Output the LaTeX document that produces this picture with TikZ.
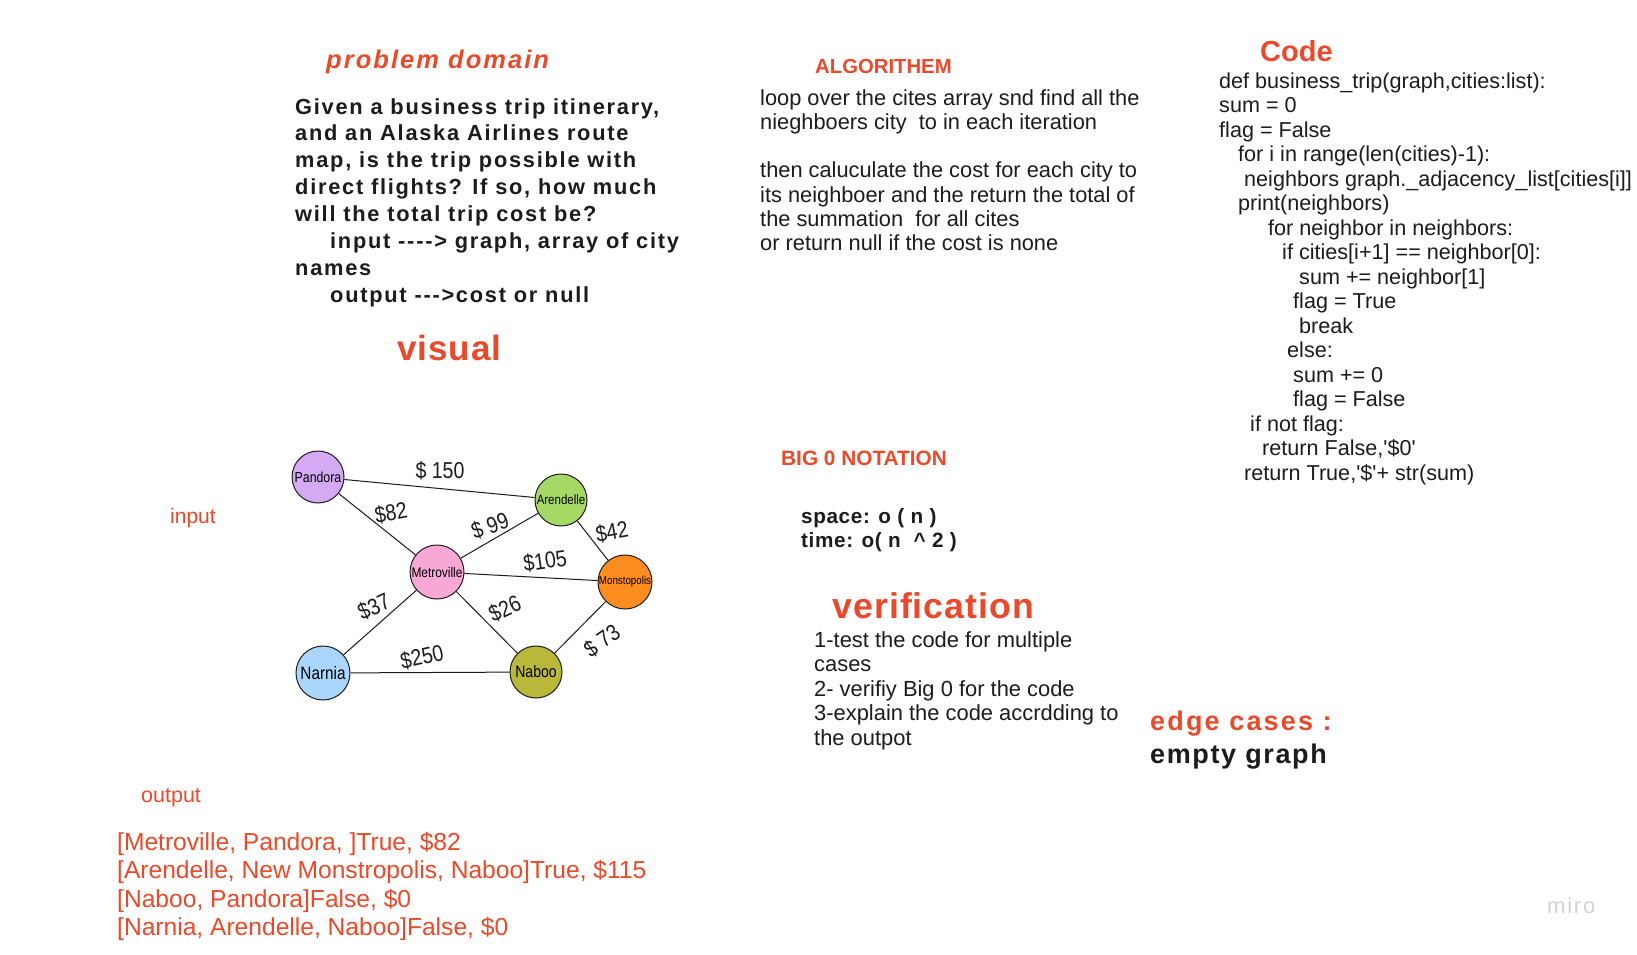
\documentclass[tikz,border=0pt]{standalone}
\usepackage{fontspec}
\setmainfont{Liberation Sans}[Ligatures=TeXOff]
\newfontfamily\spaced{Liberation Sans}[Ligatures=TeXOff,LetterSpace=8]
\newfontfamily\mspaced{Liberation Sans}[Ligatures=TeXOff,LetterSpace=6]
\newfontfamily\lspaced{Liberation Sans}[Ligatures=TeXOff,LetterSpace=3]
\newfontfamily\hand{Liberation Sans}[Ligatures=TeXOff,FakeStretch=0.85]
\newcommand\fsz[1]{\fontsize{#1}{#1}\selectfont}
\definecolor{hl}{HTML}{E84A2B}
\definecolor{ink}{HTML}{1C1C1C}
\definecolor{cPandora}{HTML}{D4AAF5}
\definecolor{cArendelle}{HTML}{A6D865}
\definecolor{cMetro}{HTML}{F8A8D4}
\definecolor{cMonstro}{HTML}{FF8C1F}
\definecolor{cNarnia}{HTML}{A9D6FA}
\definecolor{cNaboo}{HTML}{B9B83A}
\definecolor{wm}{HTML}{D2D2D8}
\begin{document}
\begin{tikzpicture}[x=1pt,y=-1pt,
  txt/.style={anchor=base west,inner sep=0pt,text=ink},
  head/.style={anchor=base west,inner sep=0pt,text=hl},
  pdtext/.style={txt,font=\spaced\bfseries\fsz{21.8}},
  algtext/.style={txt,font=\fsz{21.8}},
  codetext/.style={txt,font=\fsz{21.6}},
  vertext/.style={txt,font=\fsz{21.9}},
  outtext/.style={head,font=\fsz{24.6}},
  city/.style={circle,draw=ink,line width=1pt,minimum size=#1,inner sep=0pt},
  route/.style={draw=ink,line width=1pt},
  price/.style={text=ink,inner sep=0pt,font=\hand\fsz{23}}]
\useasboundingbox (0,0) rectangle (1637,954);
\fill[white] (0,0) rectangle (1637,954);

% ---- problem domain ----
\node[head,font=\spaced\bfseries\itshape\fsz{25.5}] (pdtitle) at (326,68) {problem domain};
\node[pdtext] (pd1) at (295,114) {Given a business trip itinerary,};
\node[pdtext] (pd2) at (295,140.9) {and an Alaska Airlines route};
\node[pdtext] (pd3) at (295,167.8) {map, is the trip possible with};
\node[pdtext] (pd4) at (295,194.7) {direct flights? If so, how much};
\node[pdtext] (pd5) at (295,221.6) {will the total trip cost be?};
\node[pdtext] (pd6) at (330,248.5) {input ----> graph, array of city};
\node[pdtext] (pd7) at (295,275.4) {names};
\node[pdtext] (pd8) at (330,302.3) {output --->cost or null};

\node[head,font=\lspaced\bfseries\fsz{35}] (visual) at (397,360.5) {visual};

% ---- algorithm ----
\node[head,font=\bfseries\fsz{20.3}] (algtitle) at (815,73) {ALGORITHEM};
\node[algtext] (al1) at (760,105) {loop over the cites array snd find all the};
\node[algtext] (al2) at (760,129.3) {nieghboers city\ \ to in each iteration};
\node[algtext] (al3) at (760,177.9) {then caluculate the cost for each city to};
\node[algtext] (al4) at (760,202.2) {its neighboer and the return the total of};
\node[algtext] (al5) at (760,226.5) {the summation\ \ for all cites};
\node[algtext] (al6) at (760,250.8) {or return null if the cost is none};

% ---- code ----
\node[head,font=\bfseries\fsz{29}] (codetitle) at (1260,61.7) {Code};
\node[codetext] (c1)  at (1219,88.3)  {def business\_trip(graph,cities:list):};
\node[codetext] (c2)  at (1219,112.8) {sum = 0};
\node[codetext] (c3)  at (1219,137.3) {flag = False};
\node[codetext] (c4)  at (1238,161.8) {for i in range(len(cities)-1):};
\node[codetext] (c5)  at (1244,186.3) {neighbors graph.\_adjacency\_list[cities[i]]};
\node[codetext] (c6)  at (1238,210.8) {print(neighbors)};
\node[codetext] (c7)  at (1268,235.3) {for neighbor in neighbors:};
\node[codetext] (c8)  at (1282,259.8) {if cities[i+1] == neighbor[0]:};
\node[codetext] (c9)  at (1299,284.3) {sum += neighbor[1]};
\node[codetext] (c10) at (1293,308.8) {flag = True};
\node[codetext] (c11) at (1299,333.3) {break};
\node[codetext] (c12) at (1287,357.8) {else:};
\node[codetext] (c13) at (1293,382.3) {sum += 0};
\node[codetext] (c14) at (1293,406.8) {flag = False};
\node[codetext] (c15) at (1250,431.3) {if not flag:};
\node[codetext] (c16) at (1262,455.8) {return False,'\$0'};
\node[codetext] (c17) at (1244,480.3) {return True,'\$'+ str(sum)};

% ---- big O ----
\node[head,font=\bfseries\fsz{20.8}] (bigo) at (781,465.5) {BIG 0 NOTATION};
\node[txt,font=\lspaced\bfseries\fsz{20.7}] (space) at (801,523.3) {space: o ( n )};
\node[txt,font=\lspaced\bfseries\fsz{20.7}] (time) at (801,547.3) {time: o( n\ \ \^{} 2 )};

% ---- verification ----
\node[head,font=\lspaced\bfseries\fsz{35.7}] (vertitle) at (832,618.3) {verification};
\node[vertext] (v1) at (814,647) {1-test the code for multiple};
\node[vertext] (v2) at (814,671.5) {cases};
\node[vertext] (v3) at (814,696) {2- verifiy Big 0 for the code};
\node[vertext] (v4) at (814,720.5) {3-explain the code accrdding to};
\node[vertext] (v5) at (814,745) {the outpot};

% ---- edge cases ----
\node[head,font=\spaced\bfseries\fsz{27}] (edgetitle) at (1150,730.5) {edge cases :};
\node[txt,font=\mspaced\bfseries\fsz{27}] (edge1) at (1150,763.3) {empty graph};

% ---- input / output ----
\node[head,font=\fsz{21}] (inlabel) at (170,523) {input};
\node[head,font=\fsz{21.5}] (outlabel) at (141,802) {output};
\node[outtext] (o1) at (117,850.6) {[Metroville, Pandora, ]True, \$82};
\node[outtext] (o2) at (117,878.8) {[Arendelle, New Monstropolis, Naboo]True, \$115};
\node[outtext] (o3) at (117,907)   {[Naboo, Pandora]False, \$0};
\node[outtext] (o4) at (117,935.2) {[Narnia, Arendelle, Naboo]False, \$0};

% ---- route map ----
\node[city=52pt,fill=cPandora]   (pandora) at (318,477) {\hand\fsz{14.5}Pandora};
\node[city=52pt,fill=cArendelle] (arend)   at (561,500) {\hand\fsz{13.5}Arendelle};
\node[city=54pt,fill=cMetro]     (metro)   at (437,572) {\hand\fsz{14}Metroville};
\node[city=54pt,fill=cMonstro]   (monstro) at (625,582) {\hand\fsz{11.5}Monstopolis};
\node[city=54pt,fill=cNarnia]    (narnia)  at (323,673) {\hand\fsz{18}Narnia};
\node[city=52pt,fill=cNaboo]     (naboo)   at (536,672) {\hand\fsz{16.5}Naboo};

\draw[route] (pandora) -- (arend);
\draw[route] (pandora) -- (metro);
\draw[route] (metro) -- (arend);
\draw[route] (arend) -- (monstro);
\draw[route] (metro) -- (monstro);
\draw[route] (metro) -- (narnia);
\draw[route] (metro) -- (naboo);
\draw[route] (narnia) -- (naboo);
\draw[route] (naboo) -- (monstro);

\node[price] (p150) at (440,471) {\$ 150};
\node[price,rotate=10] (p82) at (391,513) {\$82};
\node[price,rotate=20] (p99) at (490,526) {\$ 99};
\node[price,rotate=10] (p42) at (612,532) {\$42};
\node[price,rotate=8] (p105) at (545,561) {\$105};
\node[price,rotate=25] (p37) at (374,607) {\$37};
\node[price,rotate=25] (p26) at (505,609) {\$26};
\node[price,rotate=12] (p250) at (422,657) {\$250};
\node[price,rotate=35] (p73) at (602,641) {\$ 73};

% ---- watermark ----
\node[anchor=base west,inner sep=0pt,text=wm,font=\spaced\fsz{22}] (miro) at (1547,913) {miro};
\end{tikzpicture}
\end{document}
